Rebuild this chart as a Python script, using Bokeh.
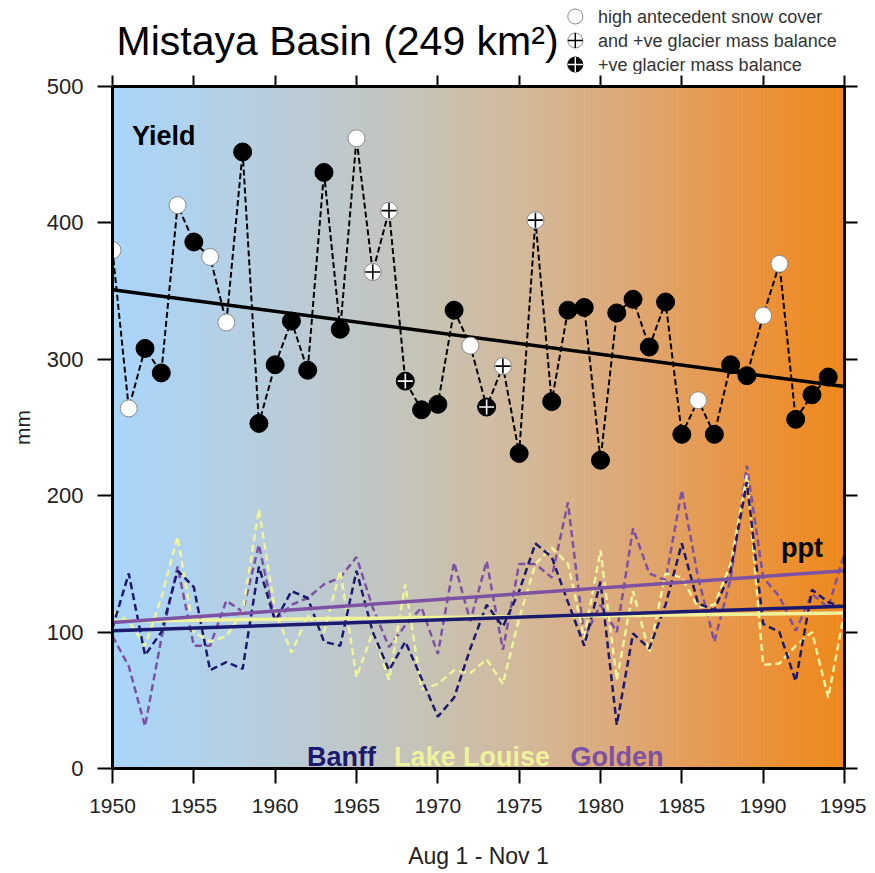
import numpy as np
from bokeh.plotting import figure
from bokeh.layouts import column
from bokeh.models import Range1d, LinearAxis, Label
from bokeh.core.properties import value
from bokeh.embed import file_html
from bokeh.resources import INLINE

# ---------------- data ----------------
years_yield = list(range(1950, 1995))
yield_mm = [380, 264, 308, 290, 413, 386, 375, 327, 452, 253,
            296, 328, 292, 437, 322, 462, 364, 409, 284, 263,
            267, 336, 310, 265, 295, 231, 402, 269, 336, 338,
            226, 334, 344, 309, 342, 245, 270, 245, 296, 288,
            332, 370, 256, 274, 287]
# snow = high antecedent snow cover, both = snow and +ve glacier mass balance,
# glacier = +ve glacier mass balance, none = neither
yield_class = ["snow", "snow", "none", "none", "snow", "none", "snow", "snow", "none", "none",
               "none", "none", "none", "none", "none", "snow", "both", "both", "glacier", "none",
               "none", "none", "snow", "glacier", "both", "none", "both", "none", "none", "none",
               "none", "none", "none", "none", "none", "none", "snow", "none", "none", "none",
               "snow", "snow", "none", "none", "none"]

years_ppt = list(range(1950, 1996))
banff = [103, 143, 83, 100, 145, 133, 72, 78, 73, 148,
         108, 130, 125, 93, 90, 145, 100, 72, 93, 66,
         38, 52, 88, 120, 104, 130, 165, 155, 122, 90,
         137, 32, 99, 88, 120, 165, 121, 116, 145, 210,
         106, 100, 64, 131, 122, 118]
lake_louise = [115, 108, 90, 125, 170, 100, 93, 97, 115, 190,
               115, 85, 112, 100, 145, 67, 100, 65, 135, 58,
               62, 72, 70, 80, 62, 110, 150, 162, 150, 96,
               160, 65, 130, 85, 143, 140, 118, 120, 150, 215,
               76, 77, 90, 100, 52, 115]
golden = [97, 75, 31, 95, 148, 90, 90, 123, 115, 164,
          108, 120, 125, 135, 140, 155, 118, 89, 105, 118,
          84, 151, 108, 152, 87, 150, 150, 140, 195, 96,
          120, 100, 176, 143, 138, 204, 140, 93, 139, 222,
          140, 126, 101, 128, 118, 158]

trend_years = [1950, 1995]
yield_trend = [351, 280]
banff_trend = [101, 119]
louise_trend = [108, 114]
golden_trend = [107, 145]

x_ticks = [1950, 1955, 1960, 1965, 1970, 1975, 1980, 1985, 1990, 1995]
y_ticks = [0, 100, 200, 300, 400, 500]

title_text = "Mistaya Basin (249 km²)"
legend_labels = ["high antecedent snow cover",
                 "and +ve glacier mass balance",
                 "+ve glacier mass balance"]

# ---------------- styles ----------------
BANFF = "#1c1a6e"
LOUISE = "#eef39c"
GOLDEN = "#7d52a3"
FONT = "Liberation Sans"
W = 866
TOP_H = 74
LEFT_B = 112
RIGHT_B = W - 112 - 732

xr = Range1d(1950, 1995)

# ---------------- header figure (title + marker key) ----------------
tf = figure(width=W, height=TOP_H, x_range=xr, y_range=Range1d(TOP_H, 0),
            output_backend="svg", toolbar_location=None,
            x_axis_location=None, y_axis_location=None,
            min_border=0, min_border_left=LEFT_B, min_border_right=RIGHT_B,
            min_border_top=0, min_border_bottom=0)
tf.outline_line_color = None
tf.xgrid.grid_line_color = None
tf.ygrid.grid_line_color = None

tf.text(x=[1950.25], y=[40], text=[title_text], text_font=value(FONT),
        text_font_size="41px", text_color="black",
        text_align="left", text_baseline="middle")

key_x = 1978.45
key_text_x = 1979.85
key_rows = [16 + 24 * i for i in range(3)]
tf.scatter([key_x], [key_rows[0]], marker="circle", size=15, fill_color="white",
           line_color="#8a8a8a", line_width=1)
tf.scatter([key_x], [key_rows[1]], marker="circle", size=15, fill_color="white",
           line_color="#8a8a8a", line_width=1)
tf.scatter([key_x], [key_rows[1]], marker="cross", size=15, line_color="black", line_width=1.4)
tf.scatter([key_x], [key_rows[2]], marker="circle", size=15, fill_color="black",
           line_color="black")
tf.scatter([key_x], [key_rows[2]], marker="cross", size=15, line_color="white", line_width=1.4)
tf.text(x=[key_text_x] * 3, y=key_rows, text=legend_labels, text_font=value(FONT),
        text_font_size="18px", text_color="#333333", text_baseline="middle",
        text_align="left")

# ---------------- main figure ----------------
p = figure(width=W, height=873 - TOP_H,
           x_range=xr, y_range=Range1d(0, 500),
           output_backend="svg", toolbar_location=None,
           min_border_left=LEFT_B, min_border_right=RIGHT_B,
           min_border_top=12, min_border_bottom=873 - TOP_H - 12 - 682)
p.xgrid.grid_line_color = None
p.ygrid.grid_line_color = None
p.outline_line_color = "black"
p.outline_line_width = 3

# gradient background (decorative strips)
stop_x = np.array([1950, 1957, 1964, 1970, 1976, 1982, 1988, 1995], dtype=float)
stop_rgb = np.array([[168, 213, 251],
                     [180, 208, 230],
                     [190, 200, 204],
                     [200, 194, 178],
                     [212, 183, 150],
                     [222, 167, 116],
                     [232, 150, 72],
                     [239, 136, 26]], dtype=float)
n_strips = 180
edges = np.linspace(1950, 1995, n_strips + 1)
mids = 0.5 * (edges[:-1] + edges[1:])
cols = []
for m in mids:
    rgb = [int(round(np.interp(m, stop_x, stop_rgb[:, k]))) for k in range(3)]
    cols.append("#%02x%02x%02x" % tuple(rgb))
p.quad(left=edges[:-1], right=edges[1:], bottom=0, top=500,
       fill_color=cols, line_color=cols, line_width=0.8)

# precipitation series
p.line(years_ppt, golden, line_color=GOLDEN, line_width=2.5, line_dash="7 4")
p.line(years_ppt, lake_louise, line_color=LOUISE, line_width=2.5, line_dash="7 4")
p.line(years_ppt, banff, line_color=BANFF, line_width=2.5, line_dash="7 4")
p.line(trend_years, louise_trend, line_color=LOUISE, line_width=3.5)
p.line(trend_years, banff_trend, line_color=BANFF, line_width=3.5)
p.line(trend_years, golden_trend, line_color=GOLDEN, line_width=3.5)

# yield
p.line(years_yield, yield_mm, line_color="black", line_width=2, line_dash="6 3")
p.line(trend_years, yield_trend, line_color="black", line_width=3.5)


def pick(cls):
    xs = [x for x, c in zip(years_yield, yield_class) if c == cls]
    ys = [y for y, c in zip(yield_mm, yield_class) if c == cls]
    return xs, ys


xs, ys = pick("none")
p.scatter(xs, ys, marker="circle", size=18, fill_color="black", line_color="black")
xs, ys = pick("snow")
p.scatter(xs, ys, marker="circle", size=17, fill_color="white",
          line_color="#8a8a8a", line_width=1)
xs, ys = pick("both")
p.scatter(xs, ys, marker="circle", size=17, fill_color="white",
          line_color="#8a8a8a", line_width=1)
p.scatter(xs, ys, marker="cross", size=15, line_color="black", line_width=1.6)
xs, ys = pick("glacier")
p.scatter(xs, ys, marker="circle", size=18, fill_color="black", line_color="black")
p.scatter(xs, ys, marker="cross", size=15, line_color="white", line_width=1.6)

# axes
for ax in [p.xaxis[0], p.yaxis[0]]:
    ax.axis_line_width = 3
    ax.axis_line_color = "black"
    ax.major_tick_line_width = 2
    ax.major_tick_line_color = "black"
    ax.major_tick_out = 15
    ax.major_tick_in = 0
    ax.minor_tick_line_color = None
    ax.major_label_text_font = FONT
    ax.major_label_text_color = "#222222"
    ax.axis_label_text_font = FONT
    ax.axis_label_text_font_style = "normal"
    ax.axis_label_text_color = "#222222"

p.xaxis.ticker = x_ticks
p.yaxis.ticker = y_ticks
p.xaxis.major_label_text_font_size = "21px"
p.yaxis.major_label_text_font_size = "22px"
p.xaxis.major_label_standoff = 15
p.yaxis.major_label_standoff = 14
p.xaxis.axis_label = "Aug 1 - Nov 1"
p.xaxis.axis_label_text_font_size = "23px"
p.xaxis.axis_label_standoff = 27
p.yaxis.axis_label = "mm"
p.yaxis.axis_label_text_font_size = "21px"
p.yaxis.axis_label_standoff = 10

top_ax = LinearAxis(ticker=x_ticks, major_label_overrides={t: "" for t in x_ticks})
right_ax = LinearAxis(ticker=y_ticks, major_label_overrides={t: "" for t in y_ticks})
for ax in [top_ax, right_ax]:
    ax.axis_line_width = 3
    ax.major_tick_line_width = 2
    ax.major_tick_in = 0
    ax.minor_tick_line_color = None
    ax.major_label_standoff = 0
    ax.major_label_text_font_size = "0px"
top_ax.major_tick_out = 11
right_ax.major_tick_out = 13
p.add_layout(top_ax, "above")
p.add_layout(right_ax, "right")

# text annotations inside the frame
p.add_layout(Label(x=1951.2, y=464, text="Yield", text_font=FONT, text_font_style="bold",
                   text_font_size="27px", text_color="black", text_baseline="alphabetic"))
p.add_layout(Label(x=1991.1, y=162, text="ppt", text_font=FONT, text_font_style="bold",
                   text_font_size="27px", text_color="black", text_baseline="alphabetic"))
p.add_layout(Label(x=1961.95, y=8.5, text="Banff", text_font=FONT, text_font_style="bold",
                   text_font_size="27px", text_color=BANFF, text_baseline="alphabetic"))
p.add_layout(Label(x=1967.3, y=8.5, text="Lake Louise", text_font=FONT, text_font_style="bold",
                   text_font_size="27px", text_color=LOUISE, text_baseline="alphabetic"))
p.add_layout(Label(x=1978.15, y=8.5, text="Golden", text_font=FONT, text_font_style="bold",
                   text_font_size="27px", text_color=GOLDEN, text_baseline="alphabetic"))

layout = column(tf, p, spacing=0)
open("out.html", "w").write(file_html(layout, INLINE))
